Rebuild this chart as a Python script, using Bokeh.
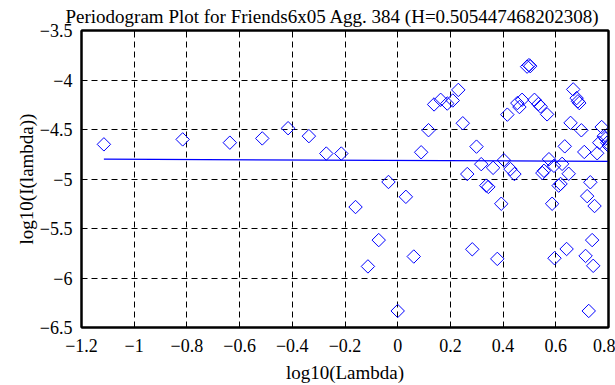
from bokeh.plotting import figure
from bokeh.models import FixedTicker, LinearAxis, Range1d
from bokeh.embed import file_html
from bokeh.resources import INLINE

title_text = "Periodogram Plot for Friends6x05 Agg. 384 (H=0.505447468202308)"
x_label = "log10(Lambda)"
y_label = "log10(I(lambda))"

log_lambda = [
    -1.115, -0.816, -0.637, -0.514, -0.416, -0.337, -0.271, -0.214, -0.160, -0.113,
    -0.072, -0.035, 0.000, 0.031, 0.061, 0.089, 0.117, 0.138, 0.163, 0.188,
    0.209, 0.230, 0.247, 0.264, 0.283, 0.299, 0.317, 0.336, 0.344, 0.362,
    0.378, 0.393, 0.403, 0.416, 0.428, 0.443, 0.454, 0.462, 0.472, 0.491,
    0.498, 0.503, 0.519, 0.534, 0.542, 0.549, 0.555, 0.567, 0.574, 0.586,
    0.593, 0.595, 0.611, 0.618, 0.624, 0.634, 0.641, 0.649, 0.656, 0.666,
    0.679, 0.684, 0.689, 0.697, 0.708, 0.713, 0.719, 0.725, 0.731, 0.738,
    0.742, 0.747, 0.757, 0.765, 0.774, 0.782, 0.789, 0.795, 0.801,
]
log_i = [
    -4.650, -4.600, -4.633, -4.590, -4.487, -4.567, -4.743, -4.743, -5.283, -5.883,
    -5.617, -5.030, -6.333, -5.180, -5.783, -4.730, -4.507, -4.247, -4.200, -4.238,
    -4.207, -4.100, -4.437, -4.950, -5.710, -4.673, -4.850, -5.067, -5.080, -4.887,
    -5.807, -5.250, -4.810, -4.350, -4.900, -4.950, -4.233, -4.273, -4.200, -3.865,
    -3.850, -3.860, -4.200, -4.243, -4.267, -4.940, -4.917, -4.347, -4.800, -5.250,
    -4.867, -5.800, -5.067, -5.050, -4.847, -4.670, -5.707, -4.947, -4.433, -4.095,
    -4.183, -4.215, -4.233, -4.508, -4.727, -5.777, -5.173, -6.333, -5.033, -5.617,
    -5.877, -5.273, -4.740, -4.633, -4.475, -4.567, -4.593, -4.633, -4.667,
]
fit_x = [-1.115, 0.801]
fit_y = [-4.800, -4.821]

x_ticks = [-1.2, -1.0, -0.8, -0.6, -0.4, -0.2, 0.0, 0.2, 0.4, 0.6, 0.8]
x_tick_labels = ["\u22121.2", "\u22121", "\u22120.8", "\u22120.6", "\u22120.4", "\u22120.2",
                 "0", "0.2", "0.4", "0.6", "0.8"]
y_ticks = [-6.5, -6.0, -5.5, -5.0, -4.5, -4.0, -3.5]
y_tick_labels = ["\u22126.5", "\u22126", "\u22125.5", "\u22125", "\u22124.5", "\u22124", "\u22123.5"]

FONT = "Liberation Serif"
FS = "18px"
BLUE = "#0000ff"

p = figure(width=615, height=385, output_backend="svg", toolbar_location=None,
           x_range=Range1d(-1.2, 0.8), y_range=Range1d(-6.5, -3.5),
           min_border_left=81, min_border_right=7, min_border_top=30, min_border_bottom=55)
p.title.text = title_text
p.title.align = "left"
p.title.offset = -16
p.title.standoff = 7
p.title.text_font = FONT
p.title.text_font_size = "19px"
p.title.text_font_style = "normal"
p.title.text_color = "black"
p.background_fill_color = "white"
p.border_fill_color = "white"
p.outline_line_color = "black"
p.outline_line_width = 2

for ax, ticks, labels in ((p.xaxis[0], x_ticks, x_tick_labels), (p.yaxis[0], y_ticks, y_tick_labels)):
    ax.ticker = FixedTicker(ticks=ticks)
    ax.major_label_overrides = {t: l for t, l in zip(ticks, labels)}
    ax.minor_tick_line_color = None
    ax.major_tick_in = 5
    ax.major_tick_out = 0
    ax.axis_line_width = 2
    ax.major_tick_line_width = 1
    ax.major_label_text_font = FONT
    ax.major_label_text_font_size = FS
    ax.major_label_text_color = "black"
    ax.axis_label_text_font = FONT
    ax.axis_label_text_font_size = "19px"
    ax.axis_label_text_font_style = "normal"
    ax.axis_label_text_color = "black"

p.xaxis.axis_label = x_label
p.yaxis.axis_label = y_label
p.xaxis.major_label_standoff = 11
p.xaxis.axis_label_standoff = 7
p.yaxis.major_label_standoff = 9
p.yaxis.axis_label_standoff = 0

for loc, ticks in (("right", y_ticks), ("above", x_ticks)):
    ax = LinearAxis(ticker=FixedTicker(ticks=ticks), major_label_text_font_size="0px",
                    major_label_standoff=0, major_tick_in=5, major_tick_out=0,
                    minor_tick_line_color=None, axis_line_width=2)
    ax.major_label_overrides = {t: "" for t in ticks}
    p.add_layout(ax, loc)

p.xgrid.ticker = FixedTicker(ticks=x_ticks)
p.ygrid.ticker = FixedTicker(ticks=y_ticks)
for g in (p.xgrid[0], p.ygrid[0]):
    g.grid_line_color = "black"
    g.grid_line_dash = "6 4"
    g.grid_line_width = 1
    g.grid_line_alpha = 1.0

p.line(fit_x, fit_y, line_color=BLUE, line_width=1.3)
p.scatter(log_lambda, log_i, marker="square", angle=0.785398, size=9.5,
          fill_color=None, line_color=BLUE, line_width=1)

open("out.html", "w").write(file_html(p, INLINE))
